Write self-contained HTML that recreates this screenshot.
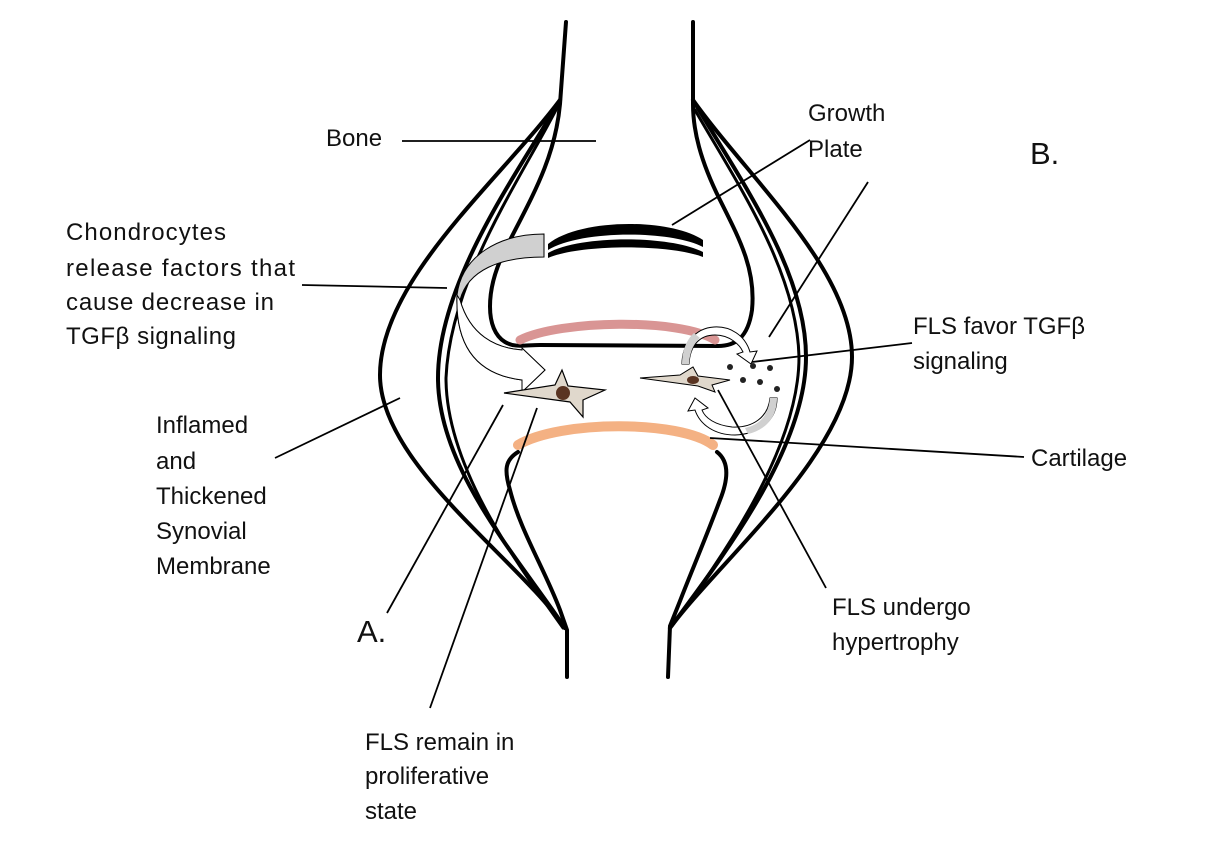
<!DOCTYPE html>
<html><head><meta charset="utf-8"><style>
body{margin:0;background:#fff;}
svg{display:block;}
text{font-family:"Liberation Sans",sans-serif;font-size:24px;fill:#111;}
</style></head><body>
<svg width="1218" height="844" viewBox="0 0 1218 844" xmlns="http://www.w3.org/2000/svg">
<g fill="none" stroke="#000" stroke-width="4" stroke-linecap="round">
<path d="M566,22 L560,104 C555,160 530,200 505,250 C485,290 485,330 505,342 C515,348 525,345 540,345 L718,346 C735,346 748,338 752,310 C756,270 740,240 720,200 C700,160 693,130 693,104 L693,22"/>
<path d="M518,452 C505,460 504,470 510,490 C520,530 545,570 560,610 L567,630 L567,677"/>
<path d="M717,452 C730,462 728,480 720,500 C705,540 690,575 680,601 L670,626 L668,677"/>
<path d="M560,100 C500,180 380,280 380,375 C380,465 520,560 565,628"/>
<path d="M560,100 C520,170 438,280 438,378 C438,470 520,560 565,628"/>
<path d="M557,108 C520,180 450,280 446,378 C446,470 522,570 563,628" stroke-width="3"/>
<path d="M693,100 C750,180 852,270 852,357 C852,450 720,560 670,628"/>
<path d="M693,100 C740,180 806,270 806,357 C806,450 720,560 670,628"/>
<path d="M695,110 C735,180 797,270 799,357 C799,450 720,560 672,626" stroke-width="3"/>
</g>
<path d="M548,244 C580,218 670,218 703,240 L703,247 C670,230 580,230 548,250Z" fill="#000"/>
<path d="M548,253 C580,235 670,235 703,252 L703,257 C670,244 580,244 548,258Z" fill="#000"/>
<path d="M520,340 C560,320 680,318 715,340" fill="none" stroke="#d99594" stroke-width="9" stroke-linecap="round"/>
<path d="M518,445 C560,420 680,420 713,445" fill="none" stroke="#f4b183" stroke-width="10" stroke-linecap="round"/>
<path d="M544,234 L544,257 C500,257 468,270 460,300 C470,335 495,348 522,350 L522,348 L545,370 L522,392 L522,380 C480,375 455,350 457,295 C462,255 500,234 544,234Z" fill="#d0d0d0" stroke="#000" stroke-width="1"/>
<path d="M460,300 C470,335 495,348 522,350 L522,348 L545,370 L522,392 L522,380 C480,375 455,350 457,295Z" fill="#fff" stroke="#000" stroke-width="1"/>
<path d="M504,393 L555,385 L562,370 L568,386 L605,390 L583,400 L583,417 L570,402 Z" fill="#e0d8cc" stroke="#000" stroke-width="1.2"/>
<circle cx="563" cy="393" r="7" fill="#5a3422"/>
<path d="M640,378 L680,375 L693,367 L698,376 L730,380 L712,385 L715,392 L698,386 Z" fill="#e0d8cc" stroke="#000" stroke-width="1"/>
<ellipse cx="693" cy="380" rx="6" ry="4" fill="#5a3422"/>
<path d="M682,364 L689,364 C690,345 700,335 715,335 C730,335 740,345 743,352 L737,354 L751,364 L757,351 L750,352 C745,335 730,326 714,327 C695,328 682,345 682,364Z" fill="#fff" stroke="#000" stroke-width="1"/>
<path d="M682,364 L689,364 C690,350 695,342 700,338 L694,333 C686,340 682,352 682,364Z" fill="#d0d0d0"/>
<path d="M777,398 L770,398 C768,418 752,428 732,427 C715,425 705,418 702,410 L708,408 L695,398 L688,411 L695,410 C700,425 715,435 735,435 C760,434 777,420 777,398Z" fill="#fff" stroke="#000" stroke-width="1"/>
<path d="M777,398 L770,398 C768,418 758,425 745,428 L748,434 C765,430 777,418 777,398Z" fill="#d0d0d0"/>
<g fill="#222">
<circle cx="730" cy="367" r="3"/><circle cx="753" cy="366" r="3"/><circle cx="770" cy="368" r="3"/>
<circle cx="743" cy="380" r="3"/><circle cx="760" cy="382" r="3"/><circle cx="777" cy="389" r="3"/>
</g>
<g stroke="#000" stroke-width="1.8">
<line x1="402" y1="141" x2="596" y2="141"/>
<line x1="810" y1="140" x2="672" y2="225"/>
<line x1="868" y1="182" x2="769" y2="337"/>
<line x1="302" y1="285" x2="447" y2="288"/>
<line x1="912" y1="343" x2="752" y2="362"/>
<line x1="275" y1="458" x2="400" y2="398"/>
<line x1="1024" y1="457" x2="710" y2="438"/>
<line x1="387" y1="613" x2="503" y2="405"/>
<line x1="826" y1="588" x2="718" y2="390"/>
<line x1="430" y1="708" x2="537" y2="408"/>
</g>
<text x="326" y="146">Bone</text>
<text x="808" y="121">Growth</text>
<text x="808" y="157">Plate</text>
<text x="1030" y="164" style="font-size:31px">B.</text>
<text x="66" y="240" textLength="160">Chondrocytes</text>
<text x="66" y="276" textLength="229">release factors that</text>
<text x="66" y="310" textLength="208">cause decrease in</text>
<text x="66" y="344" textLength="170">TGFβ signaling</text>
<text x="913" y="334" textLength="172">FLS favor TGFβ</text>
<text x="913" y="369">signaling</text>
<text x="156" y="433">Inflamed</text>
<text x="156" y="469">and</text>
<text x="156" y="504">Thickened</text>
<text x="156" y="539">Synovial</text>
<text x="156" y="574">Membrane</text>
<text x="1031" y="466">Cartilage</text>
<text x="357" y="642" style="font-size:31px">A.</text>
<text x="832" y="615">FLS undergo</text>
<text x="832" y="650">hypertrophy</text>
<text x="365" y="750">FLS remain in</text>
<text x="365" y="784">proliferative</text>
<text x="365" y="819">state</text>
</svg>
</body></html>
